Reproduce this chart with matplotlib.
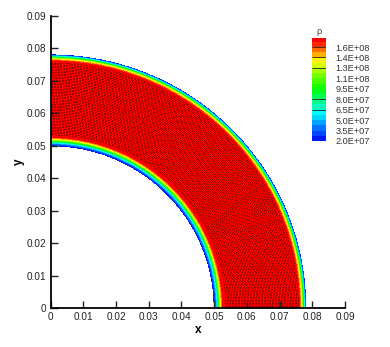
#!/usr/bin/env python

import numpy as np
import matplotlib
matplotlib.use('Agg')
import matplotlib.pyplot as plt
from matplotlib.colors import LinearSegmentedColormap

plt.rcParams['font.family'] = ['Liberation Sans', 'DejaVu Sans']

# radial density profile across the ring
radius = [0.0500, 0.0505, 0.0510, 0.0515, 0.0520, 0.0525, 0.0530, 0.0640,
          0.0757, 0.0762, 0.0767, 0.0771, 0.0775, 0.0780]
density = [2.0e7, 3.5e7, 6.0e7, 1.0e8, 1.3e8, 1.55e8, 1.75e8, 1.75e8,
           1.75e8, 1.55e8, 1.3e8, 1.0e8, 6.0e7, 2.0e7]
angle_deg = [0, 15, 30, 45, 60, 75, 90]

levels = [2.0e7, 2.75e7, 3.5e7, 4.25e7, 5.0e7, 5.75e7, 6.5e7, 7.25e7, 8.0e7, 8.75e7,
          9.5e7, 1.025e8, 1.1e8, 1.175e8, 1.25e8, 1.325e8, 1.4e8, 1.475e8, 1.55e8,
          1.625e8, 1.7e8, 1.76e8]
legend_vals = [1.55e8, 1.4e8, 1.25e8, 1.1e8, 9.5e7, 8.0e7, 6.5e7, 5.0e7, 3.5e7, 2.0e7]
legend_text = ['1.6E+08', '1.4E+08', '1.3E+08', '1.1E+08', '9.5E+07', '8.0E+07',
               '6.5E+07', '5.0E+07', '3.5E+07', '2.0E+07']
line_vals = [1.55e8, 1.4e8, 1.25e8, 8.0e7, 6.5e7]

xticks = [0, 0.01, 0.02, 0.03, 0.04, 0.05, 0.06, 0.07, 0.08, 0.09]
xlabels = ['0', '0.01', '0.02', '0.03', '0.04', '0.05', '0.06', '0.07', '0.08', '0.09']

rainbow = LinearSegmentedColormap.from_list('rainbow_tp', [
    (0.0, '#0000ff'), (0.26, '#00ffff'), (0.48, '#00ff00'),
    (0.74, '#ffff00'), (0.92, '#ff0000'), (1.0, '#ff0000')])

W, H = 390, 347
fig = plt.figure(figsize=(W / 100, H / 100), dpi=100)
ax = fig.add_axes([50.5 / W, 1 - 308 / H, 294.5 / W, 292 / H])

# smooth arcs, the field itself does not change with angle
th = np.radians(np.linspace(angle_deg[0], angle_deg[-1], 181))
R, T = np.meshgrid(radius, th)
Z = np.tile(density, (len(th), 1))
ax.contourf(R * np.cos(T), R * np.sin(T), Z, levels=levels, cmap=rainbow, vmin=2.0e7, vmax=1.76e8)

# dark mesh nodes in the core of the ring, same arc spacing on each row
for i, r in enumerate(np.arange(0.0535, 0.0757, 0.00047)):
    tm = np.arange(0.00023 * (i % 2) / r, np.pi / 2, 0.00047 / r)
    ax.plot(r * np.cos(tm), r * np.sin(tm), ls='none', marker='s', ms=0.5, mew=0,
            color='k', alpha=0.42)

ax.set_xlim(0, 0.09)
ax.set_ylim(0, 0.09)
ax.spines['top'].set_visible(False)
ax.spines['right'].set_visible(False)
ax.spines['left'].set_linewidth(1.3)
ax.spines['bottom'].set_linewidth(1.3)
ax.set_xticks(xticks)
ax.set_xticklabels(xlabels)
ax.set_yticks(xticks)
ax.set_yticklabels(xlabels)
ax.tick_params(direction='in', length=5, width=1.0, labelsize=7.2, pad=3, colors='#222222')
ax.set_xlabel('x', fontsize=8.5, fontweight='bold', labelpad=1)
ax.set_ylabel('y', fontsize=8.5, fontweight='bold', labelpad=1)

# legend bar
cax = fig.add_axes([312 / W, 1 - 142 / H, 14 / W, 104 / H])
cax.contourf([0, 1], levels, np.tile(levels, (2, 1)).T, levels=levels, cmap=rainbow,
             vmin=2.0e7, vmax=1.76e8)
cax.hlines(line_vals, 0, 1, color='#222222', lw=0.6)
cax.set_ylim(1.85e7, 1.68e8)
cax.set_xlim(0, 1)
cax.set_xticks([])
cax.yaxis.tick_right()
cax.set_yticks(legend_vals)
cax.set_yticklabels(legend_text)
cax.tick_params(axis='y', length=0, labelsize=6.6, pad=7, colors='#333333')
for s in cax.spines.values():
    s.set_visible(False)
fig.text(319 / W, 1 - 31 / H, '\u03c1', fontsize=6.5, ha='center', va='center', color='#333333')

fig.savefig('out.png', dpi=100)
